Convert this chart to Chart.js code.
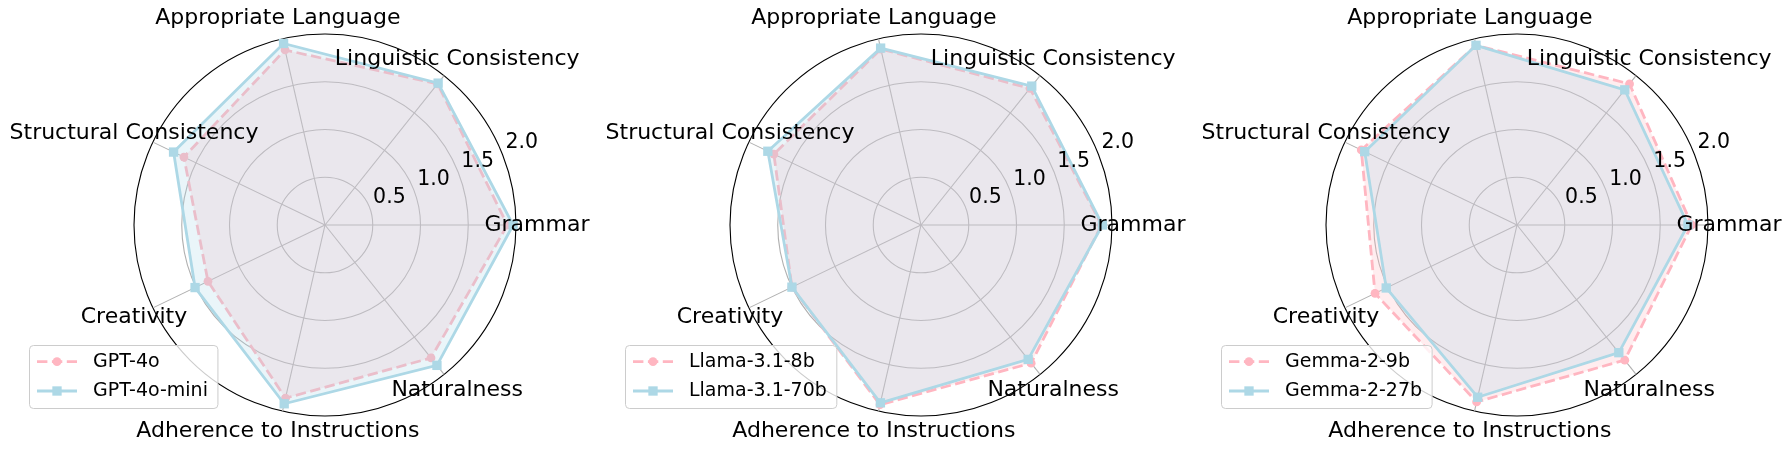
<!DOCTYPE html>
<html>
<head>
<meta charset="utf-8">
<script src="https://cdn.jsdelivr.net/npm/chart.js@4.4.1/dist/chart.umd.min.js"></script>
<style>
    html, body { margin: 0; padding: 0; background: #fff; }
    #wrap { position: relative; width: 1791px; height: 452px; }
    #wrap canvas { position: absolute; top: 0; }
</style>
</head>
<body>
<div id="wrap">
    <canvas id="radar1" width="596" height="452" style="left:0px"></canvas>
    <canvas id="radar2" width="596" height="452" style="left:596px"></canvas>
    <canvas id="radar3" width="597" height="452" style="left:1192px"></canvas>
</div>
<script>
// ========================================================================
// 데이터
// ========================================================================
const categories = [
    'Grammar', 'Linguistic Consistency', 'Appropriate Language',
    'Structural Consistency', 'Creativity', 'Adherence to Instructions', 'Naturalness'
];
const tickValues = [0.5, 1.0, 1.5, 2.0];
const tickLabels = ['0.5', '1.0', '1.5', '2.0'];

// 모델별 점수 (categories 순서)
const gpt4o      = [1.91, 1.89, 1.88, 1.64, 1.36, 1.86, 1.78];
const gpt4oMini  = [1.97, 1.90, 1.95, 1.76, 1.51, 1.92, 1.88];
const llama8b    = [1.89, 1.83, 1.89, 1.71, 1.50, 1.93, 1.85];
const llama70b   = [1.90, 1.86, 1.90, 1.78, 1.50, 1.91, 1.80];
const gemma9b    = [1.83, 1.89, 1.93, 1.81, 1.65, 1.90, 1.81];
const gemma27b   = [1.79, 1.81, 1.93, 1.77, 1.52, 1.85, 1.71];

const panels = [
    { id: 'radar1', names: ['GPT-4o', 'GPT-4o-mini'], values: [gpt4o, gpt4oMini] },
    { id: 'radar2', names: ['Llama-3.1-8b', 'Llama-3.1-70b'], values: [llama8b, llama70b] },
    { id: 'radar3', names: ['Gemma-2-9b', 'Gemma-2-27b'], values: [gemma9b, gemma27b] }
];

const PINK = '#FFB6C1';
const BLUE = '#ADD8E6';
const FONT = '"DejaVu Sans", sans-serif';

// Chart.js 는 시계방향이므로 반시계 순서로 재배열 (Grammar 가 오른쪽)
const order = [0, 6, 5, 4, 3, 2, 1];
const reorder = arr => order.map(i => arr[i]);

// ========================================================================
// 텍스트 / 범례 플러그인
// ========================================================================
const radarText = {
    id: 'radarText',
    afterDraw(chart) {
        const r = chart.scales.r;
        const ctx = chart.ctx;
        ctx.save();
        ctx.fillStyle = '#000';

        // 축 라벨
        ctx.font = '22px ' + FONT;
        ctx.textAlign = 'center';
        ctx.textBaseline = 'middle';
        chart.data.labels.forEach((lab, i) => {
            const p = r.getPointPosition(i, r.drawingArea * 1.11);
            ctx.fillText(lab, p.x, p.y);
        });

        // 반지름 눈금 라벨 (22.5도)
        ctx.font = '20.5px ' + FONT;
        ctx.textAlign = 'left';
        ctx.textBaseline = 'alphabetic';
        const a = 22.5 * Math.PI / 180;
        tickValues.forEach((v, i) => {
            const d = r.getDistanceFromCenterForValue(v);
            const x = r.xCenter + d * Math.cos(a);
            const y = r.yCenter - d * Math.sin(a);
            ctx.fillText(tickLabels[i], x + 4, y - 3.5);
        });

        // 범례
        const ds = chart.data.datasets;
        ctx.font = '19px ' + FONT;
        const left = r.xCenter - 296;
        const top = 345;
        const textX = left + 64;
        const wMax = Math.max(...ds.map(d => ctx.measureText(d.label).width));
        const boxW = textX + wMax + 9.5 - left;
        const boxH = 63;
        ctx.beginPath();
        ctx.roundRect(left + 0.5, top + 0.5, boxW, boxH, 4);
        ctx.fillStyle = 'rgba(255,255,255,0.8)';
        ctx.fill();
        ctx.strokeStyle = '#cccccc';
        ctx.lineWidth = 1;
        ctx.stroke();

        ds.forEach((d, i) => {
            const y = top + 16.7 + i * 29.3;
            ctx.strokeStyle = d.borderColor;
            ctx.lineWidth = d.borderWidth;
            ctx.setLineDash(d.borderDash || []);
            ctx.beginPath();
            ctx.moveTo(left + 8, y);
            ctx.lineTo(left + 48, y);
            ctx.stroke();
            ctx.setLineDash([]);
            ctx.fillStyle = d.pointBackgroundColor;
            const mx = left + 28;
            if (d.pointStyle === 'rect') {
                const s = d.pointRadius * Math.SQRT1_2;
                ctx.fillRect(mx - s, y - s, 2 * s, 2 * s);
            } else {
                ctx.beginPath();
                ctx.arc(mx, y, d.pointRadius, 0, Math.PI * 2);
                ctx.fill();
            }
            ctx.fillStyle = '#000';
            ctx.textBaseline = 'middle';
            ctx.fillText(d.label, textX, y);
        });
        ctx.restore();
    }
};

// ========================================================================
// 차트 생성
// ========================================================================
function makeDataset(name, values, isFirst) {
    const color = isFirst ? PINK : BLUE;
    return {
        label: name,
        data: reorder(values),
        borderColor: color,
        backgroundColor: isFirst ? 'rgba(255,182,193,0.25)' : 'rgba(173,216,230,0.25)',
        borderWidth: 2.8,
        borderDash: isFirst ? [10.4, 4.5] : [],
        fill: true,
        tension: 0,
        pointStyle: isFirst ? 'circle' : 'rect',
        pointRadius: isFirst ? 4.4 : 6.6,
        pointBackgroundColor: color,
        pointBorderColor: color,
        pointBorderWidth: 0,
        order: isFirst ? 2 : 1
    };
}

function initRadar(panel) {
    const ctx = document.getElementById(panel.id);
    return new Chart(ctx, {
        type: 'radar',
        data: {
            labels: reorder(categories),
            datasets: panel.values.map((v, i) => makeDataset(panel.names[i], v, i === 0))
        },
        options: {
            responsive: false,
            animation: false,
            layout: { padding: { left: 134, right: ctx.width - 516, top: 34, bottom: 36 } },
            plugins: {
                legend: { display: false },
                tooltip: { enabled: false }
            },
            scales: {
                r: {
                    min: 0,
                    max: 2,
                    startAngle: 90,
                    ticks: { display: false, stepSize: 0.5 },
                    pointLabels: { display: false },
                    grid: {
                        circular: true,
                        color: c => (c.tick && c.tick.value >= 2) ? '#000000' : '#b0b0b0',
                        lineWidth: 1.1
                    },
                    angleLines: { color: '#b0b0b0', lineWidth: 1.1 }
                }
            }
        },
        plugins: [radarText]
    });
}

panels.forEach(initRadar);
</script>
</body>
</html>
